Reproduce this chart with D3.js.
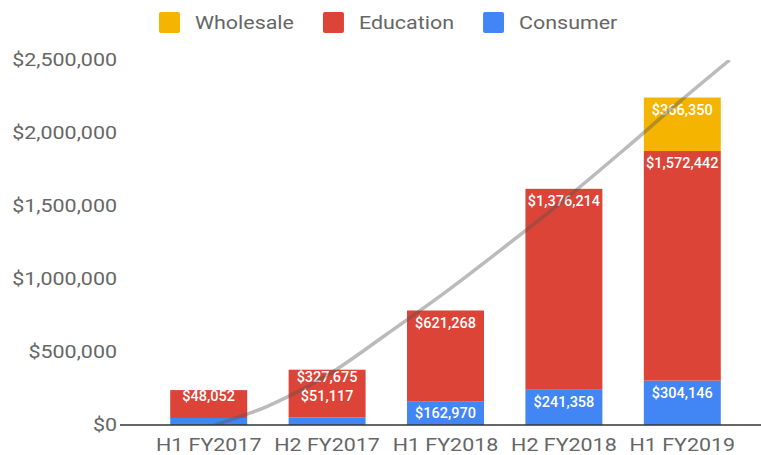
<!DOCTYPE html>
<html>
<head>
<meta charset="utf-8">
<script src="https://cdn.jsdelivr.net/npm/d3@7"></script>
<style>
  html, body { margin: 0; padding: 0; background: #fff; }
  svg { display: block; font-family: Roboto, "Noto Sans", Arial, sans-serif; }
</style>
</head>
<body>
<svg id="chart" width="761" height="455"></svg>
<script>
// ---- data ----
const categories = ["H1 FY2017", "H2 FY2017", "H1 FY2018", "H2 FY2018", "H1 FY2019"];
const consumer   = [48052, 51117, 162970, 241358, 304146];
const education  = [191000, 327675, 621268, 1376214, 1572442];
const wholesale  = [0, 0, 0, 0, 366350];
const seriesNames = ["Consumer", "Education", "Wholesale"];
const legendOrder = ["Wholesale", "Education", "Consumer"];
const yTicks = [0, 500000, 1000000, 1500000, 2000000, 2500000];
// trendline: position in category units, value
const trendPos    = [0.05, 0.5, 1.0, 1.5, 2.0, 2.5, 3.0, 3.5, 4.0, 4.4];
const trendValues = [0, 130000, 340000, 620000, 910000, 1220000, 1540000, 1880000, 2230000, 2500000];

const colors = { Consumer: "#4285f4", Education: "#db4437", Wholesale: "#f4b400" };

// ---- layout ----
const svg = d3.select("#chart");
const plot = { left: 122, right: 761, top: 60, bottom: 425 };
const SX = 1.16;      // horizontal stretch of the axis / legend text
const FS = 18.5;

const x = d3.scaleBand().domain(categories)
  .range([149.5, 741.5]).paddingInner(0.35).paddingOuter(0.175);
const y = d3.scaleLinear().domain([0, 2500000]).range([plot.bottom, plot.top]);

const rows = categories.map((c, i) => ({ cat: c, Consumer: consumer[i], Education: education[i], Wholesale: wholesale[i] }));
const stacked = d3.stack().keys(seriesNames)(rows);

// y axis labels
const fmt = d3.format("$,");
svg.append("g").selectAll("text").data(yTicks).join("text")
  .attr("transform", d => `translate(117,${y(d)}) scale(${SX},1)`)
  .attr("text-anchor", "end").attr("dominant-baseline", "central")
  .attr("fill", "#666").attr("font-size", FS)
  .text(d => fmt(d));

// bars
const barG = svg.append("g");
stacked.forEach(s => {
  barG.append("g").selectAll("rect").data(s.filter(d => d[1] - d[0] > 0)).join("rect")
    .attr("x", d => x(d.data.cat)).attr("width", x.bandwidth())
    .attr("y", d => y(d[1])).attr("height", d => y(d[0]) - y(d[1]))
    .attr("fill", colors[s.key]);
});

// bar labels
const labelG = svg.append("g");
categories.forEach((c, i) => {
  const barTop = y(stacked[stacked.length - 1][i][1]);
  let prev = Infinity;
  stacked.forEach(s => {
    const d = s[i];
    const v = d[1] - d[0];
    if (v <= 0) return;
    const top = y(d[1]), h = y(d[0]) - y(d[1]);
    let cy = h >= 20 ? top + 12.5 : top - 21;
    if (cy > prev - 19.5) cy = prev - 19.5;
    if (cy < barTop + 5) return;
    prev = cy;
    labelG.append("text")
      .attr("x", x(c) + x.bandwidth() / 2).attr("y", cy)
      .attr("text-anchor", "middle").attr("dominant-baseline", "central")
      .attr("fill", "#fff").attr("font-size", 14.5).attr("font-weight", 500)
      .text(fmt(v));
  });
});

// trendline
svg.append("clipPath").attr("id", "clip").append("rect")
  .attr("x", plot.left).attr("y", plot.top)
  .attr("width", plot.right - plot.left).attr("height", plot.bottom - plot.top);
const tx = d3.scaleLinear().domain([0, categories.length - 1])
  .range([x(categories[0]) + x.bandwidth() / 2, x(categories[categories.length - 1]) + x.bandwidth() / 2]);
const line = d3.line().x((d, i) => tx(trendPos[i])).y(d => y(d)).curve(d3.curveMonotoneX);
svg.append("path").attr("clip-path", "url(#clip)")
  .attr("d", line(trendValues))
  .attr("fill", "none").attr("stroke", "#555").attr("stroke-opacity", 0.4).attr("stroke-width", 3.5);

// baseline
svg.append("line").attr("x1", plot.left - 2).attr("x2", plot.right)
  .attr("y1", y(0)).attr("y2", y(0)).attr("stroke", "#333").attr("stroke-width", 1.5);

// x axis labels
svg.append("g").selectAll("text").data(categories).join("text")
  .attr("transform", d => `translate(${x(d) + x.bandwidth() / 2},445) scale(${SX},1)`)
  .attr("text-anchor", "middle").attr("dominant-baseline", "central")
  .attr("fill", "#666").attr("font-size", FS)
  .text(d => d);

// legend
const leg = svg.append("g");
let lx = 159;
legendOrder.forEach(name => {
  leg.append("rect").attr("x", lx).attr("y", 12).attr("width", 21).attr("height", 21)
    .attr("rx", 2).attr("fill", colors[name]);
  const t = leg.append("text")
    .attr("transform", `translate(${lx + 36},22.5) scale(${SX},1)`)
    .attr("dominant-baseline", "central").attr("fill", "#666").attr("font-size", FS)
    .text(name);
  lx += 36 + t.node().getComputedTextLength() * SX + 29;
});
</script>
</body>
</html>
